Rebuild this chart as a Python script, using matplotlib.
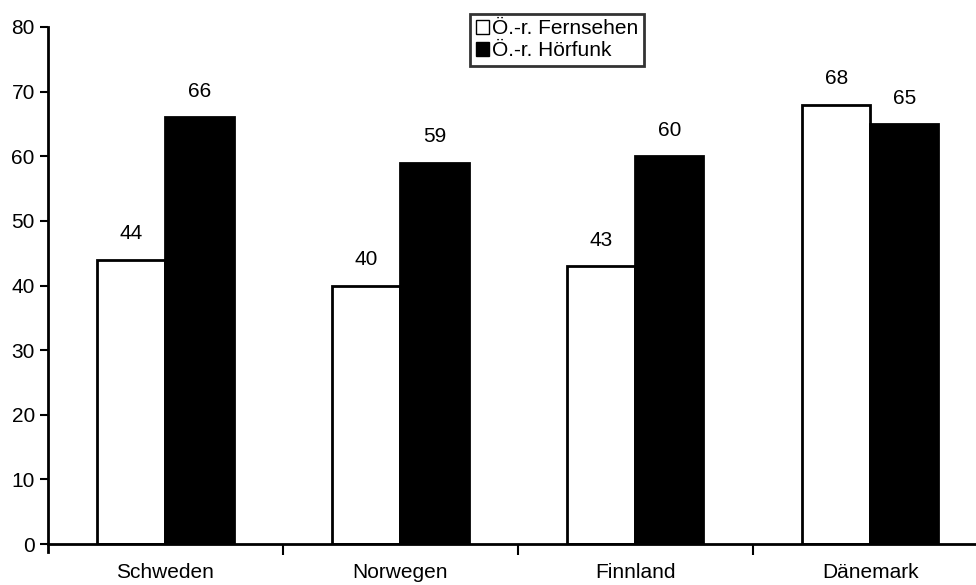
import numpy as np
import matplotlib.pyplot as plt

plt.rcParams['font.family'] = ['Liberation Sans', 'DejaVu Sans']

# Data
countries = ["Schweden", "Norwegen", "Finnland", "Dänemark"]
fernsehen = [44, 40, 43, 68]
hoerfunk = [66, 59, 60, 65]
series_names = ["Ö.-r. Fernsehen", "Ö.-r. Hörfunk"]

fs = 15
fig = plt.figure(figsize=(9.76, 5.85), dpi=100)
ax = fig.add_axes([48 / 976, 41 / 585, 1 - 48 / 976, 517 / 585])

x = np.arange(len(countries))
w = 0.29
b1 = ax.bar(x - w / 2, fernsehen, w, color="white", edgecolor="black",
            linewidth=2, label=series_names[0])
b2 = ax.bar(x + w / 2, hoerfunk, w, color="black", edgecolor="black",
            linewidth=2, label=series_names[1])

for bars, vals in [(b1, fernsehen), (b2, hoerfunk)]:
    for r, v in zip(bars, vals):
        ax.text(r.get_x() + r.get_width() / 2, v + 4, str(v),
                ha="center", va="center", fontsize=fs)

ax.set_ylim(0, 80)
ax.set_xlim(-0.5, 3.45)
ax.set_yticks(range(0, 81, 10))
ax.tick_params(axis="y", labelsize=fs, width=1.5, length=6, direction="out")

# category ticks at boundaries, labels centred
ax.set_xticks([0.5, 1.5, 2.5])
ax.set_xticklabels([])
ax.set_xticks(x, minor=True)
ax.set_xticklabels(countries, minor=True)
ax.tick_params(axis="x", which="major", length=8, width=1.5, direction="out")
ax.tick_params(axis="x", which="minor", length=0, pad=14, labelsize=fs)

for s in ["top", "right"]:
    ax.spines[s].set_visible(False)
ax.spines["left"].set_linewidth(2)
ax.spines["bottom"].set_linewidth(2)
ax.spines["left"].set_bounds(-1.2, 80)
ax.spines["left"].set_clip_on(False)

leg = ax.legend(loc="upper center", bbox_to_anchor=(557 / 976, 571 / 585),
                bbox_transform=fig.transFigure, fontsize=fs,
                frameon=True, fancybox=False, edgecolor="black",
                handlelength=0.65, handleheight=0.65, handletextpad=0.15,
                borderpad=0.25, labelspacing=0.15, borderaxespad=0)
leg.get_frame().set_linewidth(2)
for h in leg.legend_handles:
    h.set_linewidth(1)

fig.savefig("out.png", dpi=100)
